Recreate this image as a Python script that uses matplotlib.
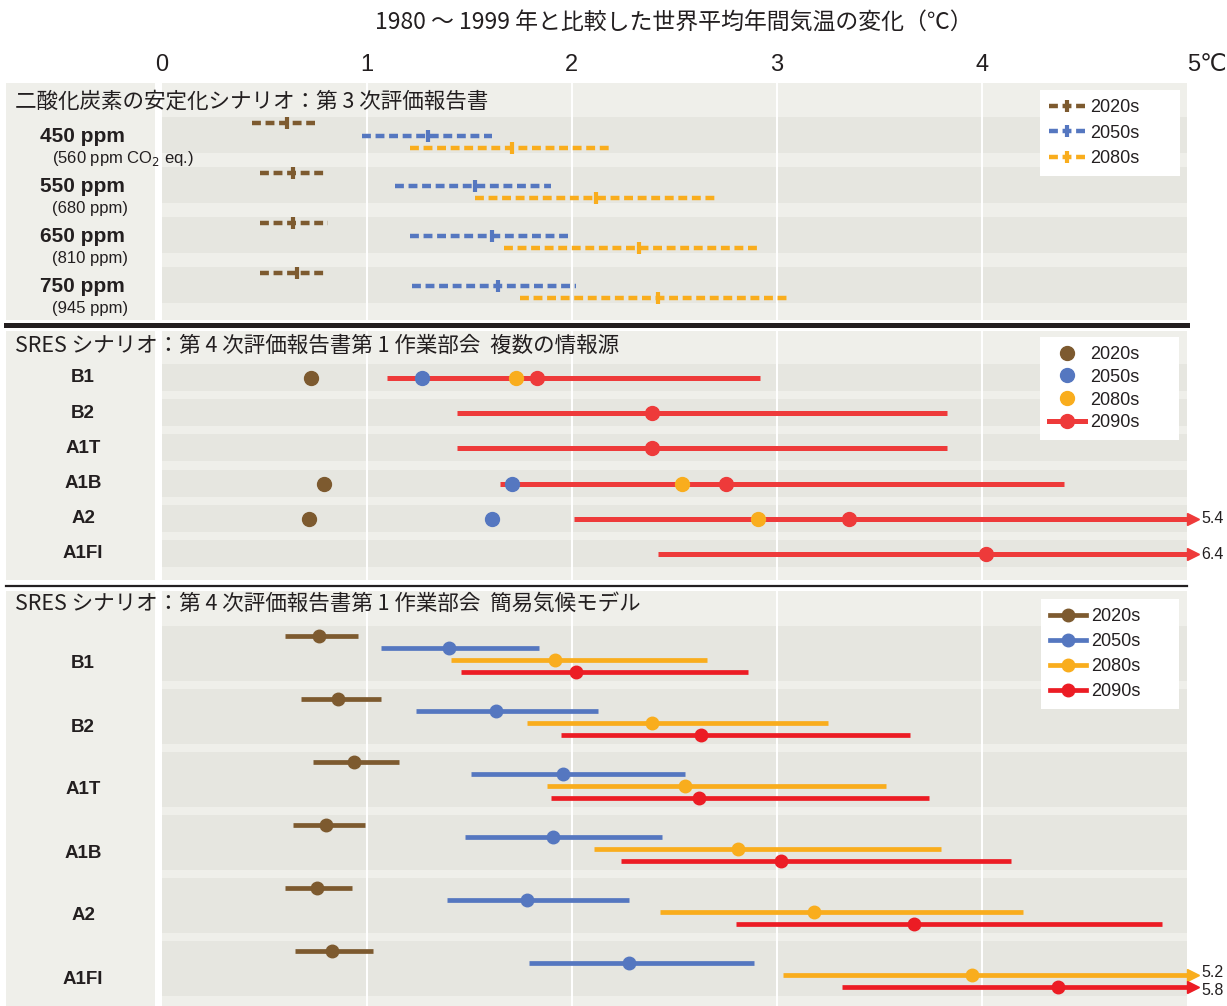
import numpy as np
import matplotlib.pyplot as plt
from matplotlib.lines import Line2D
from matplotlib.patches import Rectangle
from matplotlib.transforms import ScaledTranslation

# --- data (°C change vs 1980-1999) ---
periods = ['2020s', '2050s', '2080s', '2090s']

# panel 1: CO2 stabilisation scenarios (TAR)
co2_labels = ['450 ppm', '550 ppm', '650 ppm', '750 ppm']
co2_sub = ['(560 ppm CO$_2$ eq.)', '(680 ppm)', '(810 ppm)', '(945 ppm)']
tar_2020_lo = [0.44, 0.48, 0.48, 0.48]
tar_2020_mid = [0.61, 0.64, 0.64, 0.66]
tar_2020_hi = [0.75, 0.79, 0.81, 0.79]
tar_2050_lo = [0.98, 1.14, 1.21, 1.22]
tar_2050_mid = [1.30, 1.53, 1.61, 1.64]
tar_2050_hi = [1.61, 1.90, 1.99, 2.02]
tar_2080_lo = [1.21, 1.53, 1.67, 1.75]
tar_2080_mid = [1.71, 2.12, 2.33, 2.42]
tar_2080_hi = [2.19, 2.70, 2.92, 3.06]

# panel 2: SRES, AR4 WG1, multiple sources
sres = ['B1', 'B2', 'A1T', 'A1B', 'A2', 'A1FI']
multi_2020 = [0.73, np.nan, np.nan, 0.79, 0.72, np.nan]
multi_2050 = [1.27, np.nan, np.nan, 1.71, 1.61, np.nan]
multi_2080 = [1.73, np.nan, np.nan, 2.54, 2.91, np.nan]
multi_2090_lo = [1.10, 1.44, 1.44, 1.65, 2.01, 2.42]
multi_2090_mid = [1.83, 2.39, 2.39, 2.75, 3.35, 4.02]
multi_2090_hi = [2.92, 3.83, 3.83, 4.40, 5.4, 6.4]

# panel 3: SRES, AR4 WG1, simple climate model
scm_2020_lo = [0.60, 0.68, 0.74, 0.64, 0.60, 0.65]
scm_2020_mid = [0.77, 0.86, 0.94, 0.80, 0.76, 0.83]
scm_2020_hi = [0.96, 1.07, 1.16, 0.99, 0.93, 1.03]
scm_2050_lo = [1.07, 1.24, 1.51, 1.48, 1.39, 1.79]
scm_2050_mid = [1.40, 1.63, 1.96, 1.91, 1.78, 2.28]
scm_2050_hi = [1.84, 2.13, 2.55, 2.44, 2.28, 2.89]
scm_2080_lo = [1.41, 1.78, 1.88, 2.11, 2.43, 3.03]
scm_2080_mid = [1.92, 2.39, 2.55, 2.81, 3.18, 3.95]
scm_2080_hi = [2.66, 3.25, 3.53, 3.80, 4.20, 5.2]
scm_2090_lo = [1.46, 1.95, 1.90, 2.24, 2.80, 3.32]
scm_2090_mid = [2.02, 2.63, 2.62, 3.02, 3.67, 4.37]
scm_2090_hi = [2.86, 3.65, 3.74, 4.14, 4.88, 5.8]

xticks = [0, 1, 2, 3, 4, 5]
xticklabels = ['0', '1', '2', '3', '4', '5℃']

# --- style ---
BROWN = '#7d5a2f'
BLUE = '#5577c0'
ORANGE = '#f9ad1d'
RED2 = '#ee3a3a'
RED3 = '#ec1c24'
PANEL_BG = '#efefea'
BAND = '#e6e6e0'
INK = '#231f20'
JP = ['Noto Sans CJK JP', 'DejaVu Sans']
LAT = ['Liberation Sans', 'DejaVu Sans']
NARROW = ['Liberation Sans Narrow', 'Liberation Sans', 'DejaVu Sans']

W, H, DPI = 1227, 1006, 100
fig = plt.figure(figsize=(W / DPI, H / DPI), dpi=DPI, facecolor='white')


def fx(px):
    return px / W


def fy(py):
    return 1 - py / H


X0, X5 = 161.5, 1187  # pixel columns of 0 and 5 °C


def make_panel(top, bottom, title, title_y):
    fig.add_artist(Rectangle((fx(6), fy(bottom)), fx(155) - fx(6), (bottom - top) / H,
                             transform=fig.transFigure, facecolor=PANEL_BG,
                             edgecolor='none', zorder=0))
    ax = fig.add_axes([fx(X0), fy(bottom), fx(X5) - fx(X0), (bottom - top) / H])
    ax.set_xlim(0, 5)
    ax.set_ylim(bottom, top)
    ax.set_facecolor(PANEL_BG)
    for s in ax.spines.values():
        s.set_visible(False)
    ax.set_xticks([])
    ax.set_yticks([])
    for g in [1, 2, 3, 4]:
        ax.axvline(g, color='white', lw=1.4, zorder=1)
    fig.text(fx(15), fy(title_y), title, family=JP, fontsize=15.5, color=INK,
             ha='left', va='center')
    return ax


def add_legend(ax, handles, left, right, top, spacing):
    leg = ax.legend(handles, periods[:len(handles)], loc='upper left',
                    bbox_to_anchor=(fx(left), fy(top), fx(right) - fx(left), 0),
                    bbox_transform=fig.transFigure, mode='expand',
                    frameon=True, fancybox=False, borderaxespad=0, borderpad=0.5,
                    handlelength=2.0, handletextpad=0.25, labelspacing=spacing,
                    numpoints=1, prop={'family': LAT, 'size': 13})
    leg.get_frame().set_facecolor('white')
    leg.get_frame().set_edgecolor('none')
    leg.get_frame().set_alpha(1)
    for t in leg.get_texts():
        t.set_color(INK)
    leg.set_zorder(10)


def arrow_end(ax, y, hi, color, dy=0):
    shift = ScaledTranslation(6 / DPI, 0, fig.dpi_scale_trans)
    ax.plot([5], [y], marker='>', ms=9, color=color, clip_on=False,
            transform=ax.transData + shift, zorder=4)
    ax.annotate(f'{hi:.1f}', xy=(5, y), xytext=(14, -dy), textcoords='offset pixels',
                va='center', ha='left', fontsize=11.5, family=LAT, color=INK,
                annotation_clip=False)


# title and separators
fig.text(fx((X0 + X5) / 2), fy(22), '1980 ～ 1999 年と比較した世界平均年間気温の変化（℃）',
         family=JP, fontsize=16.5, color=INK, ha='center', va='center')
fig.add_artist(Line2D([fx(6), fx(1187)], [fy(325), fy(325)], transform=fig.transFigure,
                      color=INK, lw=3.6))
fig.add_artist(Line2D([fx(6), fx(1187)], [fy(586), fy(586)], transform=fig.transFigure,
                      color=INK, lw=1.6))

# ---------------- panel 1 ----------------
ax1 = make_panel(83, 320, '二酸化炭素の安定化シナリオ：第 3 次評価報告書', 102)
ax1.xaxis.tick_top()
ax1.set_xticks(xticks)
ax1.set_xticklabels(xticklabels, family=NARROW, fontsize=17, color=INK)
ax1.tick_params(axis='x', length=0, pad=5)
ax1.get_xticklabels()[-1].set_ha('left')

base1 = 123 + 50 * np.arange(len(co2_labels))
step1 = 12.6
tar = [(tar_2020_lo, tar_2020_mid, tar_2020_hi, BROWN),
       (tar_2050_lo, tar_2050_mid, tar_2050_hi, BLUE),
       (tar_2080_lo, tar_2080_mid, tar_2080_hi, ORANGE)]
for i, b in enumerate(base1):
    ax1.axhspan(b - 6, b + 30, color=BAND, lw=0, zorder=0.5)
    fig.text(fx(40), fy(b + 13), co2_labels[i], family=LAT, fontsize=15,
             weight='bold', color=INK, ha='left', va='center')
    fig.text(fx(52), fy(b + 35), co2_sub[i], family=LAT, fontsize=12,
             color=INK, ha='left', va='center')
    for j, (lo, mid, hi, c) in enumerate(tar):
        y = b + j * step1
        ax1.plot([lo[i], hi[i]], [y, y], color=c, lw=3.2, dashes=(2.0, 1.05), zorder=2)
        ax1.plot([mid[i]], [y], marker='|', ms=9, mew=3, color=c, zorder=3)

add_legend(ax1, [Line2D([], [], color=c, lw=3.2, dashes=(2.0, 1.05), marker='|',
                        ms=9, mew=3) for c in [BROWN, BLUE, ORANGE]],
           1040, 1180, 90, 0.48)

# ---------------- panel 2 ----------------
ax2 = make_panel(331, 580, 'SRES シナリオ：第 4 次評価報告書第 1 作業部会  複数の情報源', 346)
rows2 = 378 + 35.2 * np.arange(len(sres))
for i, y in enumerate(rows2):
    ax2.axhspan(y - 14, y + 13, color=BAND, lw=0, zorder=0.5)
    fig.text(fx(83), fy(y), sres[i], family=LAT, fontsize=13.5, weight='bold',
             color=INK, ha='center', va='center')
    hi = multi_2090_hi[i]
    ax2.plot([multi_2090_lo[i], min(hi, 5)], [y, y], color=RED2, lw=3.6,
             solid_capstyle='butt', zorder=2)
    if hi > 5:
        arrow_end(ax2, y, hi, RED2)
    for vals, c in [(multi_2020, BROWN), (multi_2050, BLUE), (multi_2080, ORANGE),
                    (multi_2090_mid, RED2)]:
        if not np.isnan(vals[i]):
            ax2.plot([vals[i]], [y], 'o', ms=10, color=c, zorder=3)

add_legend(ax2, [Line2D([], [], ls='none', marker='o', ms=10, color=c)
                 for c in [BROWN, BLUE, ORANGE]] +
           [Line2D([], [], lw=3.6, marker='o', ms=10, color=RED2)],
           1040, 1179, 337, 0.32)

# ---------------- panel 3 ----------------
ax3 = make_panel(591, 1006, 'SRES シナリオ：第 4 次評価報告書第 1 作業部会  簡易気候モデル', 604)
base3 = 636 + 63 * np.arange(len(sres))
scm = [(scm_2020_lo, scm_2020_mid, scm_2020_hi, BROWN),
       (scm_2050_lo, scm_2050_mid, scm_2050_hi, BLUE),
       (scm_2080_lo, scm_2080_mid, scm_2080_hi, ORANGE),
       (scm_2090_lo, scm_2090_mid, scm_2090_hi, RED3)]
for i, b in enumerate(base3):
    ax3.axhspan(b - 10, b + 45, color=BAND, lw=0, zorder=0.5)
    fig.text(fx(83), fy(b + 28), sres[i], family=LAT, fontsize=13.5, weight='bold',
             color=INK, ha='center', va='center')
    for j, (lo, mid, hi, c) in enumerate(scm):
        y = b + 12 * j
        ax3.plot([lo[i], min(hi[i], 5)], [y, y], color=c, lw=3.4,
                 solid_capstyle='butt', zorder=2)
        if hi[i] > 5:
            # two stacked arrow labels: spread them apart a little
            arrow_end(ax3, y, hi[i], c, dy=-2.5 if j == 2 else 3.5)
        ax3.plot([mid[i]], [y], 'o', ms=9, color=c, zorder=3)

add_legend(ax3, [Line2D([], [], lw=3.4, marker='o', ms=9, color=c)
                 for c in [BROWN, BLUE, ORANGE, RED3]],
           1041, 1179, 599, 0.45)

fig.savefig('out.png', dpi=DPI, facecolor='white')
